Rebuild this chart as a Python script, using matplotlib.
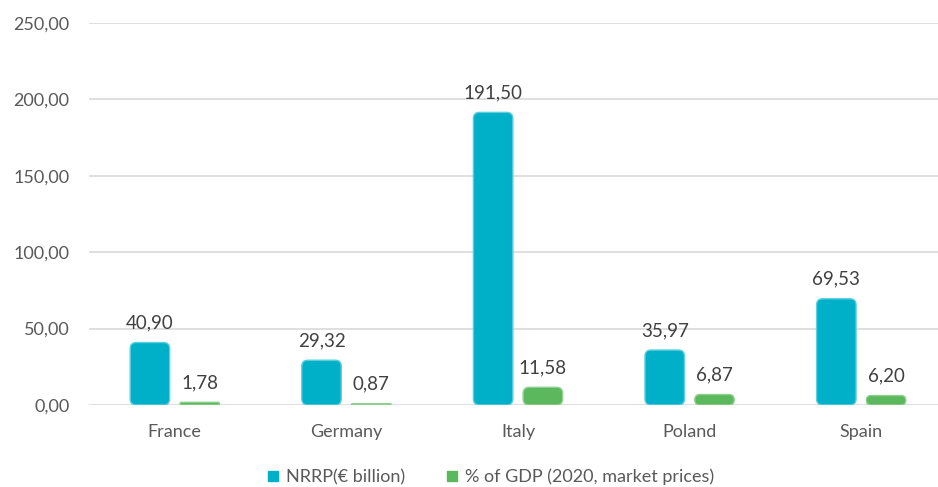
import numpy as np
import matplotlib
matplotlib.use('Agg')
from matplotlib import pyplot as plt
from matplotlib.patches import FancyBboxPatch
from matplotlib.lines import Line2D

countries = ['France', 'Germany', 'Italy', 'Poland', 'Spain']
nrrp = [40.90, 29.32, 191.50, 35.97, 69.53]
gdp_share = [1.78, 0.87, 11.58, 6.87, 6.20]
series_names = ['NRRP(€ billion)', '% of GDP (2020, market prices)']
yticks = [0, 50, 100, 150, 200, 250]

teal = '#00B0C8'
teal_edge = '#5CCFDF'
green = '#5BB85C'
green_edge = '#8ED08E'
text_col = '#404040'
tick_col = '#595959'

plt.rcParams['font.family'] = ['Lato', 'DejaVu Sans']

fig = plt.figure(figsize=(9.38, 4.87), dpi=100)
ax = fig.add_axes([89 / 938, 1 - 405 / 487, 858 / 938, 382 / 487])

ax.set_xlim(-0.5, len(countries) - 0.5)
ax.set_ylim(0, 250)

width = 0.23
offset = 0.145
# aspect between y and x data units per pixel
aspect = (250 / 382) / (1 / 171.6)
radius = 6 / 171.6

def fmt(v):
    return f'{v:.2f}'.replace('.', ',')

def draw_bar(x, h, face, edge):
    dr = min(radius, width / 2, h / aspect / 2)
    p = FancyBboxPatch((x - width / 2, 0), width, h,
                       boxstyle=f'round,pad=0,rounding_size={dr}',
                       mutation_aspect=aspect, facecolor=face,
                       edgecolor=edge, linewidth=1.0, zorder=3)
    ax.add_patch(p)
    ax.annotate(fmt(h), (x, h), xytext=(0, 8), textcoords='offset points',
                ha='center', va='bottom', fontsize=13.5, color=text_col)

x = np.arange(len(countries))
for i in range(len(countries)):
    draw_bar(x[i] - offset, nrrp[i], teal, teal_edge)
    draw_bar(x[i] + offset, gdp_share[i], green, green_edge)

ax.set_yticks(yticks)
ax.set_yticklabels([fmt(t) for t in yticks], fontsize=13, color=tick_col)
ax.set_xticks(x)
ax.set_xticklabels(countries, fontsize=13, color=tick_col)
ax.tick_params(axis='both', length=0)
ax.tick_params(axis='y', pad=14)
ax.tick_params(axis='x', pad=14)
ax.yaxis.grid(True, color='#D9D9D9', linewidth=1.2)
ax.set_axisbelow(True)
for s in ax.spines.values():
    s.set_visible(False)

handles = [Line2D([], [], marker='s', linestyle='none', markersize=7.5,
                  markerfacecolor=teal, markeredgecolor=teal),
           Line2D([], [], marker='s', linestyle='none', markersize=7.5,
                  markerfacecolor=green, markeredgecolor=green)]
fig.legend(handles, series_names, loc='center', bbox_to_anchor=(490 / 938, 1 - 477 / 487),
           ncol=2, frameon=False, fontsize=13, labelcolor=tick_col,
           handlelength=0.8, handletextpad=0.3, columnspacing=2.2)

fig.savefig('out.png', dpi=100)
